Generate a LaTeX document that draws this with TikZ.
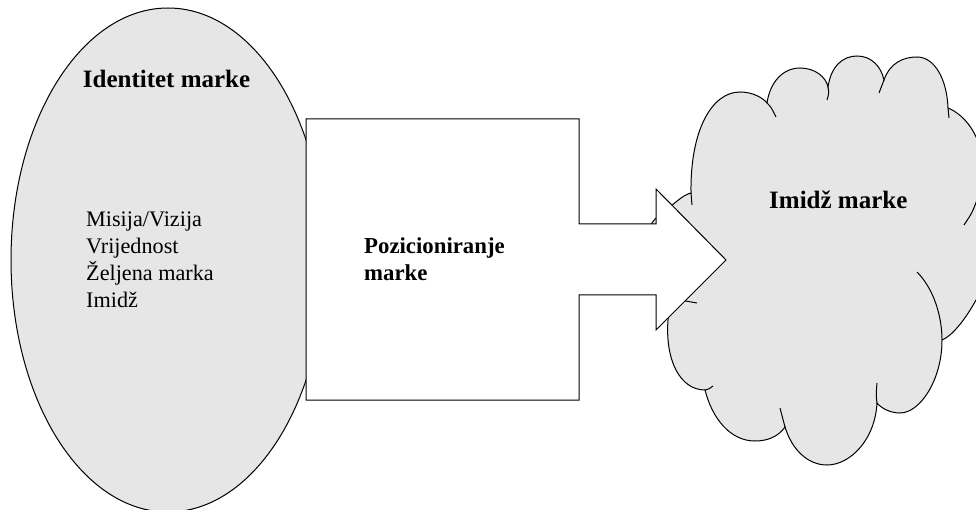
\documentclass[tikz,border=0pt]{standalone}
\usepackage{fontspec}
\setmainfont{Liberation Serif}
\definecolor{shapegray}{HTML}{E6E6E6}
\tikzset{
  grayshape/.style={fill=shapegray, draw=black, line width=1pt},
  whiteshape/.style={fill=white, draw=black, line width=1pt, line join=miter},
  tick/.style={draw=black, line width=1pt},
  boldlabel/.style={anchor=base west, inner sep=0pt, font=\fontsize{25}{29}\selectfont\bfseries},
  boldlabelb/.style={anchor=base west, inner sep=0pt, font=\fontsize{22.8}{27}\selectfont\bfseries},
  plainlabel/.style={anchor=base west, inner sep=0pt, font=\fontsize{22.2}{27}\selectfont}
}
\begin{document}
\begin{tikzpicture}[x=1pt,y=-1pt]
\useasboundingbox (0,0) rectangle (976,510);

% ellipse: Identitet marke
\path[grayshape] (168,260) ellipse [x radius=157, y radius=252];

% cloud: Imidz marke
\path[grayshape]
  (691,193) .. controls (690,130) and (712,92) .. (740,92)
            .. controls (753,92) and (763,98) .. (767,103)
            .. controls (770,82) and (783,68) .. (800,68)
            .. controls (815,68) and (826,77) .. (828,87)
            .. controls (831,66) and (843,56) .. (857,56)
            .. controls (871,56) and (881,66) .. (884,80)
            .. controls (890,63) and (903,57) .. (917,57)
            .. controls (935,57) and (947,80) .. (948,108)
            .. controls (965,115) and (980,135) .. (982,160)
            .. controls (984,180) and (981,193) .. (977,200)
            .. controls (995,225) and (995,285) .. (976,300)
            .. controls (965,320) and (952,336) .. (942,340)
            .. controls (942,380) and (920,413) .. (900,413)
            .. controls (890,413) and (881,408) .. (877,403)
            .. controls (875,440) and (850,465) .. (827,465)
            .. controls (808,465) and (792,450) .. (785,427)
            .. controls (778,437) and (767,441) .. (755,441)
            .. controls (730,441) and (712,418) .. (705,390)
            .. controls (680,390) and (665,360) .. (668,320)
            .. controls (669,312) .. (670,300)
            .. controls (640,300) and (635,230) .. (660,215)
            .. controls (672,206) and (682,195) .. (691,193)
  -- cycle;
% inner ticks of the cloud
\draw[tick] (691,193) -- (692,205);
\draw[tick] (767,103) .. controls (771,107) .. (776,117);
\draw[tick] (828,87) .. controls (829,93) .. (827,100);
\draw[tick] (884,80) .. controls (882,86) .. (879,93);
\draw[tick] (948,108) -- (949,118);
\draw[tick] (977,200) .. controls (972,213) .. (964,225);
\draw[tick] (917,272) .. controls (933,288) and (942,315) .. (942,340);
\draw[tick] (877,403) .. controls (876,395) .. (877,383);
\draw[tick] (785,427) .. controls (782,418) .. (780,408);
\draw[tick] (705,390) .. controls (709,389) .. (713,386);
\draw[tick] (670,300) .. controls (680,300) .. (697,303);

% block arrow: Pozicioniranje marke
\path[whiteshape] (306,119) -- (579,119) -- (579,224) -- (656,224) -- (656,189)
  -- (726,260) -- (656,330) -- (656,295) -- (579,295) -- (579,400) -- (306,400) -- cycle;

% texts
\node[boldlabel] (ident) at (82.7,88) {Identitet marke};
\node[plainlabel] (l1) at (86,226.5) {Misija/Vizija};
\node[plainlabel] (l2) at (86,253.7) {Vrijednost};
\node[plainlabel] (l3) at (86,281) {Željena marka};
\node[plainlabel] (l4) at (86,307.3) {Imidž};
\node[boldlabelb] (poz1) at (364,254) {Pozicioniranje};
\node[boldlabelb] (poz2) at (364,281) {marke};
\node[boldlabel] (imidz) at (769,209) {Imidž marke};
\end{tikzpicture}
\end{document}
